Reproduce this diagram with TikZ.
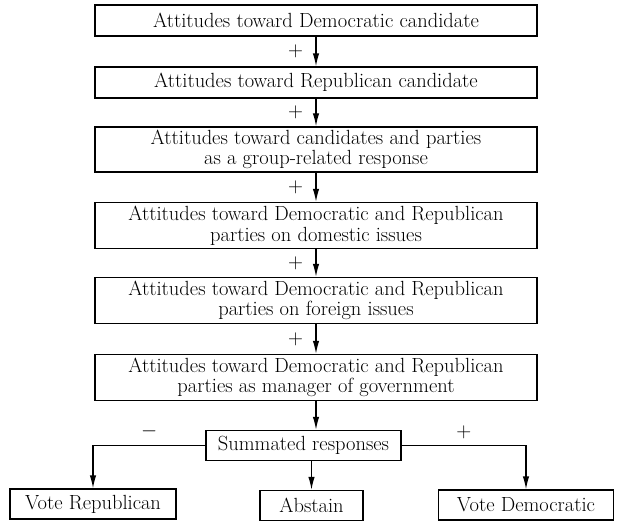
\documentclass[tikz,border=0pt]{standalone}
\usepackage{tikz}
\usetikzlibrary{arrows.meta, positioning}

\begin{document}
\begin{tikzpicture}[
  x=1pt, y=-1pt,
  font=\fontsize{20.5}{20.5}\selectfont,
  block/.style = {draw, line width=1.3pt, minimum height=31pt, minimum width=442pt, align=center, inner sep=3pt},
  twoline/.style = {block, minimum height=46pt},
  outcome/.style = {draw, line width=1.3pt, minimum height=30pt, inner sep=3pt},
  arrow/.style = {line width=1.3pt, -{Latex[length=13pt, width=6.5pt]}}
]
  \useasboundingbox (0,0) rectangle (619,525);

  % Attitude components
  \node[block] (demcand) at (316,20.5) {Attitudes toward Democratic candidate};
  \node[block] (repcand) at (316,82.5) {Attitudes toward Republican candidate};
  \node[twoline, minimum height=43pt] (group) at (316,149.5) {Attitudes toward candidates and parties\\ as a group-related response};
  \node[twoline] (domestic) at (316,225.5) {Attitudes toward Democratic and Republican\\ parties on domestic issues};
  \node[twoline] (foreign) at (316,300.5) {Attitudes toward Democratic and Republican\\ parties on foreign issues};
  \node[twoline] (manager) at (316,377.5) {Attitudes toward Democratic and Republican\\ parties as manager of government};

  \foreach \a/\b in {demcand/repcand, repcand/group, group/domestic, domestic/foreign, foreign/manager}
    \draw[arrow] (\a) -- (\b) node[midway, left=9pt] {$+$};

  % Summation and outcomes
  \node[outcome, minimum width=195pt] (summed) at (303.5,445.5) {Summated responses};
  \node[outcome, minimum width=166pt] (voterep) at (93,504) {Vote Republican};
  \node[outcome, minimum width=103pt] (abstain) at (311.5,505.5) {Abstain};
  \node[outcome, minimum width=175pt] (votedem) at (526,505) {Vote Democratic};

  \draw[arrow] (manager.south) -- (manager.south |- summed.north);
  \draw[arrow] (summed.south -| abstain.north) -- (abstain.north);
  \draw[arrow] (summed.west) -| (voterep.north) node[pos=0.25, above=3pt] {$-$};
  \draw[arrow] (summed.east) -| (votedem.north) node[pos=0.25, above=3pt] {$+$};

\end{tikzpicture}
\end{document}
